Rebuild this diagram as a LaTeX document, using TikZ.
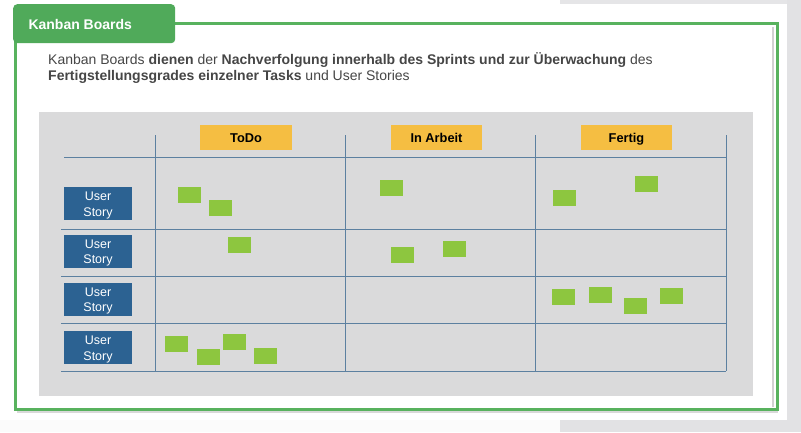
\documentclass[tikz,border=0pt]{standalone}
\usepackage{fontspec}
\setmainfont{Liberation Sans}
\definecolor{framegreen}{RGB}{88,178,94}
\definecolor{tabgreen}{RGB}{80,170,90}
\definecolor{panelgray}{RGB}{218,218,219}
\definecolor{gridblue}{RGB}{92,128,160}
\definecolor{storyblue}{RGB}{44,98,146}
\definecolor{headorange}{RGB}{245,190,66}
\definecolor{stickygreen}{RGB}{141,198,63}
\definecolor{bodytext}{RGB}{70,70,70}
\definecolor{outergray}{RGB}{226,226,228}
\begin{document}
\begin{tikzpicture}[x=1pt,y=-1pt,
  sticky/.style={fill=stickygreen,minimum width=23pt,minimum height=16pt,inner sep=0pt},
  userstory/.style={fill=storyblue,text=white,minimum width=68pt,minimum height=33pt,
    inner sep=0pt,align=center,text height=25pt,text depth=0pt,
    font=\fontsize{12.5}{15.3}\selectfont},
  colhead/.style={fill=headorange,text=black,minimum width=91pt,minimum height=25pt,
    inner sep=0pt,text height=11pt,text depth=1pt,font=\fontsize{12.8}{15}\selectfont\bfseries},
  gridline/.style={draw=gridblue,line width=0.9pt},
  frameline/.style={draw=framegreen,line width=3pt}]

% canvas and backdrop
\useasboundingbox (0,0) rectangle (801,432);
\fill[white] (0,0) rectangle (801,432);
\fill[outergray] (787,0) rectangle (801,432);
\fill[outergray] (560,420) rectangle (801,432);
\fill[outergray!90!white] (560,0) rectangle (787,4);
\fill[white!97!gray] (0,420) rectangle (560,432);

% slide frame with soft shadow
\draw[black!18,line width=2pt] (773,27) -- (773,407);
\draw[black!15,line width=2pt] (17,412) -- (778,412);
\draw[frameline] (175,23) -- (777,23) -- (777,409) -- (15,409) -- (15,40);

% title tab
\node[fill=tabgreen,rounded corners=4pt,minimum width=162pt,minimum height=39pt,
  inner sep=0pt,anchor=north west] (tab) at (13,4) {};
\node[text=white,font=\fontsize{14}{16}\selectfont\bfseries,anchor=base west]
  (title) at (25,29) {Kanban Boards};

% intro text (two lines, anchored on the baseline of the last line)
\node[text=bodytext,anchor=base west,align=left,inner sep=0pt,
  font=\fontsize{14}{16}\selectfont] (intro) at (48,80.5)
  {Kanban Boards \textbf{dienen} der \textbf{Nachverfolgung innerhalb des Sprints und zur Überwachung} des\\
   \textbf{Fertigstellungsgrades einzelner Tasks} und User Stories};

% board panel
\fill[panelgray] (39,112) rectangle (753,396);

% grid
\foreach \gx in {155,345,535,726} \draw[gridline] (\gx,135) -- (\gx,371);
\draw[gridline] (64,157) -- (726,157);
\foreach \gy in {229,276,323,371} \draw[gridline] (61,\gy) -- (726,\gy);

% column headers
\node[colhead,minimum width=92pt] (todo) at (246,137) {ToDo};
\node[colhead] (inarbeit) at (436.5,137) {In Arbeit};
\node[colhead] (fertig) at (626.5,137) {Fertig};

% user story rows
\node[userstory] (us1) at (98,203.5) {User\\Story};
\node[userstory] (us2) at (98,251) {User\\Story};
\node[userstory] (us3) at (98,299) {User\\Story};
\node[userstory] (us4) at (98,347.5) {User\\Story};

% task cards: ToDo
\node[sticky] (t1) at (189.5,195) {};
\node[sticky] (t2) at (220,208) {};
\node[sticky] (t3) at (239.5,245) {};
\node[sticky] (t4) at (176.5,344) {};
\node[sticky] (t5) at (208,356.5) {};
\node[sticky] (t6) at (234.5,342) {};
\node[sticky] (t7) at (265,355.5) {};

% task cards: In Arbeit
\node[sticky] (a1) at (391.5,188) {};
\node[sticky] (a2) at (402.5,255) {};
\node[sticky] (a3) at (454.5,248.5) {};

% task cards: Fertig
\node[sticky] (f1) at (564.5,198) {};
\node[sticky] (f2) at (646.5,184) {};
\node[sticky] (f3) at (563,297) {};
\node[sticky] (f4) at (600,295) {};
\node[sticky] (f5) at (635,305.5) {};
\node[sticky] (f6) at (671.5,295.5) {};
\end{tikzpicture}
\end{document}
